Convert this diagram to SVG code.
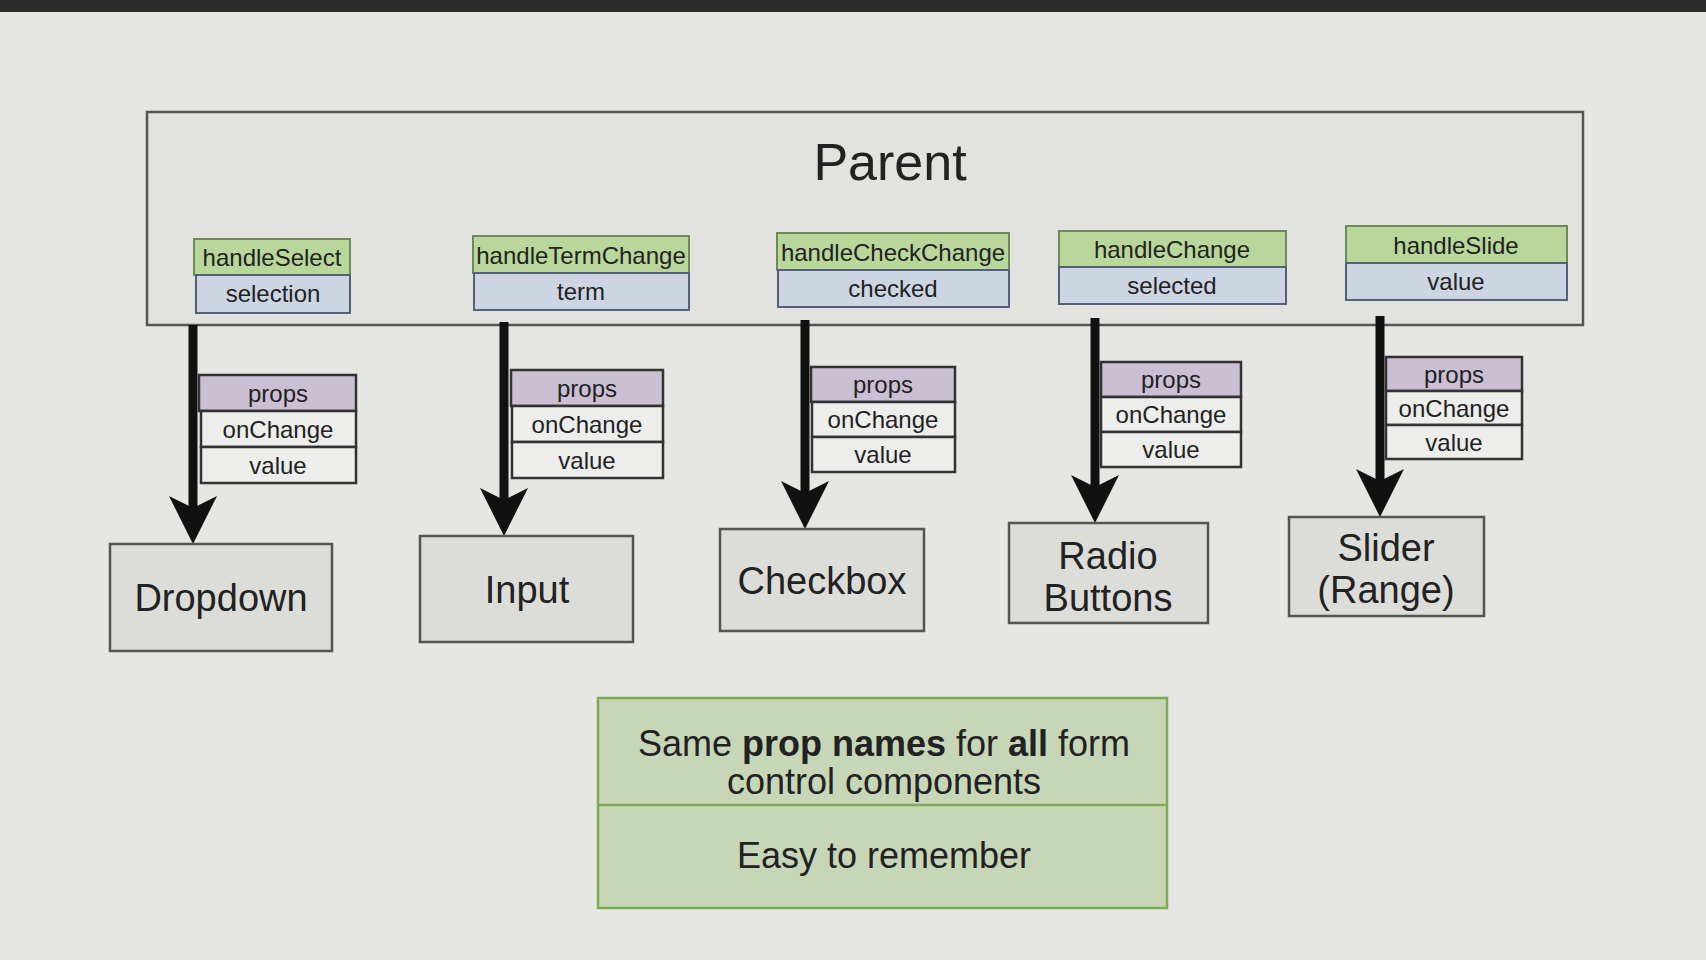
<svg xmlns="http://www.w3.org/2000/svg" width="1706" height="960" viewBox="0 0 1706 960">
<defs>
<style>
text{font-family:"Liberation Sans",Arial,sans-serif;fill:#222;text-anchor:middle}
.box{stroke:#555;stroke-width:2.5}
.parent{fill:#e2e2de}
.child{fill:#dcdcd8}
.green{fill:#b9d79a;stroke:#6c8a5a;stroke-width:2}
.blue{fill:#cdd5e3;stroke:#55607a;stroke-width:2}
.purple{fill:#cbbfd3;stroke:#333;stroke-width:2.5}
.row{fill:#ededeb;stroke:#333;stroke-width:2.5}
.t24{font-size:24px}
.t38{font-size:38px}
.conn{stroke:#111;stroke-width:9;fill:none;marker-end:url(#ah)}
</style>
<marker id="ah" markerUnits="userSpaceOnUse" viewBox="0 -25 50 50" markerWidth="50" markerHeight="50" refX="12" refY="0" orient="auto">
<path d="M0,-24 L48,0 L0,24 L12,0 Z" fill="#111"/>
</marker>
</defs>
<rect width="1706" height="960" fill="#e6e6e3"/>
<rect width="1706" height="12" fill="#2a2a2a"/>

<g id="parent">
<rect class="box parent" x="147" y="112" width="1436" height="213"/>
<text x="890" y="180" style="font-size:52px">Parent</text>
</g>

<g id="handleSelect">
<rect class="green" x="194" y="239" width="156" height="36"/>
<text class="t24" x="272" y="266">handleSelect</text>
<rect class="blue" x="196" y="275" width="154" height="38"/>
<text class="t24" x="273" y="302">selection</text>
</g>
<g id="handleTermChange">
<rect class="green" x="473" y="236" width="216" height="37"/>
<text class="t24" x="581" y="264">handleTermChange</text>
<rect class="blue" x="474" y="273" width="215" height="37"/>
<text class="t24" x="581" y="300">term</text>
</g>
<g id="handleCheckChange">
<rect class="green" x="777" y="233" width="232" height="37"/>
<text class="t24" x="893" y="261">handleCheckChange</text>
<rect class="blue" x="778" y="270" width="231" height="37"/>
<text class="t24" x="893" y="297">checked</text>
</g>
<g id="handleChange">
<rect class="green" x="1059" y="231" width="227" height="36"/>
<text class="t24" x="1172" y="258">handleChange</text>
<rect class="blue" x="1059" y="267" width="227" height="37"/>
<text class="t24" x="1172" y="294">selected</text>
</g>
<g id="handleSlide">
<rect class="green" x="1346" y="226" width="221" height="37"/>
<text class="t24" x="1456" y="254">handleSlide</text>
<rect class="blue" x="1346" y="263" width="221" height="37"/>
<text class="t24" x="1456" y="290">value</text>
</g>

<g id="connectors">
<line class="conn" x1="193" y1="325" x2="193" y2="508"/>
<line class="conn" x1="504" y1="322" x2="504" y2="500"/>
<line class="conn" x1="805" y1="320" x2="805" y2="493"/>
<line class="conn" x1="1095" y1="318" x2="1095" y2="487"/>
<line class="conn" x1="1380" y1="316" x2="1380" y2="481"/>
</g>

<g id="props1">
<rect class="purple" x="199" y="375" width="157" height="36"/>
<text class="t24" x="278" y="402">props</text>
<rect class="row" x="201" y="411" width="155" height="36"/>
<text class="t24" x="278" y="438">onChange</text>
<rect class="row" x="201" y="447" width="155" height="36"/>
<text class="t24" x="278" y="474">value</text>
</g>
<g id="props2">
<rect class="purple" x="511" y="370" width="152" height="36"/>
<text class="t24" x="587" y="397">props</text>
<rect class="row" x="512" y="406" width="151" height="36"/>
<text class="t24" x="587" y="433">onChange</text>
<rect class="row" x="512" y="442" width="151" height="36"/>
<text class="t24" x="587" y="469">value</text>
</g>
<g id="props3">
<rect class="purple" x="811" y="367" width="144" height="35"/>
<text class="t24" x="883" y="393">props</text>
<rect class="row" x="812" y="402" width="143" height="35"/>
<text class="t24" x="883" y="428">onChange</text>
<rect class="row" x="812" y="437" width="143" height="35"/>
<text class="t24" x="883" y="463">value</text>
</g>
<g id="props4">
<rect class="purple" x="1101" y="362" width="140" height="35"/>
<text class="t24" x="1171" y="388">props</text>
<rect class="row" x="1101" y="397" width="140" height="35"/>
<text class="t24" x="1171" y="423">onChange</text>
<rect class="row" x="1101" y="432" width="140" height="35"/>
<text class="t24" x="1171" y="458">value</text>
</g>
<g id="props5">
<rect class="purple" x="1386" y="357" width="136" height="34"/>
<text class="t24" x="1454" y="383">props</text>
<rect class="row" x="1386" y="391" width="136" height="34"/>
<text class="t24" x="1454" y="417">onChange</text>
<rect class="row" x="1386" y="425" width="136" height="34"/>
<text class="t24" x="1454" y="451">value</text>
</g>

<g id="dropdown">
<rect class="box child" x="110" y="544" width="222" height="107"/>
<text class="t38" x="221" y="611">Dropdown</text>
</g>
<g id="input">
<rect class="box child" x="420" y="536" width="213" height="106"/>
<text class="t38" x="527" y="603">Input</text>
</g>
<g id="checkbox">
<rect class="box child" x="720" y="529" width="204" height="102"/>
<text class="t38" x="822" y="594">Checkbox</text>
</g>
<g id="radio">
<rect class="box child" x="1009" y="523" width="199" height="100"/>
<text class="t38" x="1108" y="569">Radio</text>
<text class="t38" x="1108" y="611">Buttons</text>
</g>
<g id="slider">
<rect class="box child" x="1289" y="517" width="195" height="99"/>
<text class="t38" x="1386" y="561">Slider</text>
<text class="t38" x="1386" y="603">(Range)</text>
</g>

<g id="summary">
<rect x="598" y="698" width="569" height="210" fill="#c8d6b8" stroke="#7caa55" stroke-width="2.5"/>
<line x1="598" y1="805" x2="1167" y2="805" stroke="#7caa55" stroke-width="2.5"/>
<text x="884" y="756" style="font-size:36px">Same <tspan font-weight="bold">prop names</tspan> for <tspan font-weight="bold">all</tspan> form</text>
<text x="884" y="794" style="font-size:36px">control components</text>
<text x="884" y="868" style="font-size:36px">Easy to remember</text>
</g>
</svg>
